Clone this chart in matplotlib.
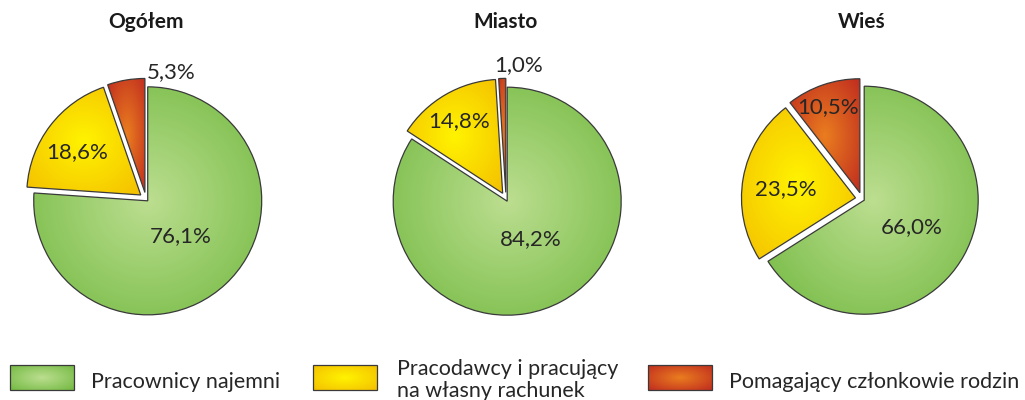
import numpy as np
import matplotlib
matplotlib.use("Agg")
import matplotlib.pyplot as plt
from matplotlib.patches import Rectangle
from matplotlib.colors import to_rgb

plt.rcParams['font.family'] = ['Lato', 'DejaVu Sans']

# ---- data ----
titles = ["Ogółem", "Miasto", "Wieś"]
categories = ["Pracownicy najemni", "Pracodawcy i pracujący\nna własny rachunek",
              "Pomagający członkowie rodzin"]
ogolem = [76.1, 18.6, 5.3]
miasto = [84.2, 14.8, 1.0]
wies = [66.0, 23.5, 10.5]
series = [ogolem, miasto, wies]

# ---- styles / layout ----
W, H = 1025, 400
centers_x = [146, 506, 862]
center_y = 201
radius = 114
explode_frac = [0.022, 0.058, 0.058]
grad_inner = ["#bcde90", "#fff300", "#ea7d1f"]
grad_outer = ["#72b941", "#f4bf00", "#c02c1f"]
edge_col = "#3a3a3a"
text_col = "#262626"
# label placement: (distance in radii from pie centre, angle shift from wedge mid-angle)
label_polar = [
    [(0.45, 0.0), (0.73, 3.0), (1.13, -20.6)],
    [(0.41, 3.6), (0.80, 0.8), (1.18, -7.3)],
    [(0.50, -0.4), (0.67, 2.4), (0.86, 1.1)],
]

fig = plt.figure(figsize=(W / 100, H / 100), dpi=100)
ax = fig.add_axes([0, 0, 1, 1])
ax.set_xlim(0, W)
ax.set_ylim(0, H)
ax.set_aspect('equal')
ax.axis('off')


def gradient_image(inner, outer, n=200):
    xs = np.linspace(-1, 1, n)
    X, Y = np.meshgrid(xs, xs)
    d = np.sqrt(X ** 2 + Y ** 2) / np.sqrt(2)
    d = np.clip(d, 0, 1)[..., None]
    ci = np.array(to_rgb(inner))
    co = np.array(to_rgb(outer))
    return ci * (1 - d) + co * d


def fill_gradient(patch, inner, outer, z):
    path = patch.get_patch_transform().transform_path(patch.get_path())
    ext = path.get_extents()
    img = gradient_image(inner, outer)
    im = ax.imshow(img, extent=(ext.x0, ext.x1, ext.y0, ext.y1), origin='lower',
                   interpolation='bilinear', zorder=z, aspect='auto')
    im.set_clip_path(patch)


def fmt(v):
    return f"{v:.1f}".replace('.', ',') + '%'


for i, vals in enumerate(series):
    cx = centers_x[i]
    wedges, _ = ax.pie(vals, center=(cx, center_y), radius=radius, startangle=90,
                       counterclock=False, explode=[e * radius for e in explode_frac],
                       frame=True,
                       wedgeprops=dict(linewidth=0.9, edgecolor=edge_col, facecolor='none', zorder=3))
    for j, w in enumerate(wedges):
        fill_gradient(w, grad_inner[j], grad_outer[j], 2)
        mid = 0.5 * (w.theta1 + w.theta2)
        dist, dang = label_polar[i][j]
        ang = np.deg2rad(mid + dang)
        ax.text(cx + dist * radius * np.cos(ang), center_y + dist * radius * np.sin(ang),
                fmt(vals[j]), ha='center', va='center', fontsize=16, color=text_col, zorder=5)
    ax.text(cx, H - 22, titles[i], ha='center', va='center', fontsize=15,
            fontweight='bold', color='#1a1a1a')

ax.set_xlim(0, W)
ax.set_ylim(0, H)
ax.axis('off')

# ---- legend ----
box_x = [10, 313, 648]
box_w, box_h = 64, 25
box_top = 365
text_x = [91, 397, 729]
for j, cat in enumerate(categories):
    rect = Rectangle((box_x[j], H - box_top - box_h), box_w, box_h,
                     facecolor='none', edgecolor=edge_col, linewidth=0.9, zorder=3)
    ax.add_patch(rect)
    fill_gradient(rect, grad_inner[j], grad_outer[j], 2)
    lines = cat.split("\n")
    if len(lines) > 1:
        for k, line in enumerate(lines):
            ax.text(text_x[j], H - 375 - 22 * k, line, ha='left', va='baseline',
                    fontsize=15.5, color=text_col)
    else:
        ax.text(text_x[j], H - 388, cat, ha='left', va='baseline', fontsize=15.5,
                color=text_col)

fig.savefig("out.png", dpi=100)
